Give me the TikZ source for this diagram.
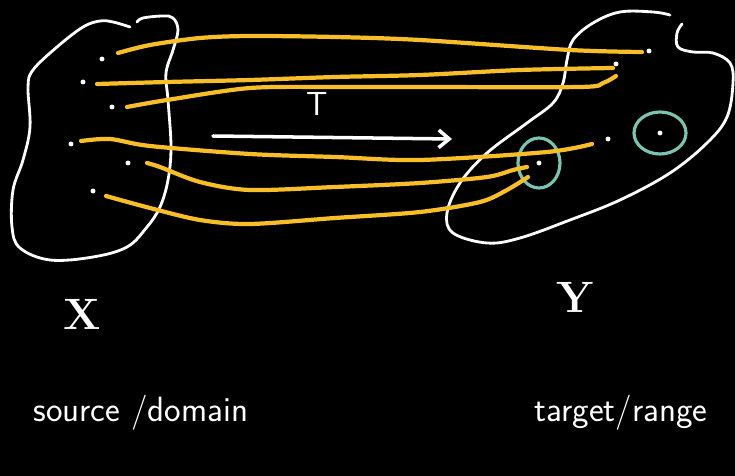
\documentclass[tikz,border=0pt]{standalone}
\usetikzlibrary{arrows.meta}
\definecolor{chalkorange}{RGB}{248,190,40}
\definecolor{chalkteal}{RGB}{125,195,178}

\begin{document}
\begin{tikzpicture}[
    x=0.02cm, y=-0.02cm,
    blob/.style={draw=white, line width=1.6pt, line cap=round},
    mapline/.style={draw=chalkorange, line width=2.4pt, line cap=round},
    hole/.style={draw=chalkteal, line width=1.8pt},
    dot/.style={circle, fill=white, inner sep=0pt, minimum size=2.8pt},
    lbl/.style={text=white, font=\sffamily\fontsize{20}{24}\selectfont},
    >={Straight Barb[length=6pt, width=10pt]}
  ]
  \fill[black] (0,0) rectangle (735,476);

  % Source set X
  \draw[blob] plot[smooth, tension=0.6] coordinates {
    (130,27) (113,22) (100,21) (83,27) (57,47) (33,70) (28,87) (30,127)
    (23,160) (13,190) (12,227) (20,248) (50,260) (93,257) (127,247)
    (147,227) (160,207) (168,180) (171,147) (168,100) (166,73) (173,50)
    (178,30) (173,18) (163,16) (143,18) (137,22)};
  \foreach \p [count=\i] in {(102,59),(83,82),(112,107),(71,144),(128,163),(93,191)} {
    \node[dot] (x\i) at \p {};
  }

  % Target set Y
  \draw[blob] plot[smooth, tension=0.6] coordinates {
    (670,15) (653,12) (620,12) (593,23) (573,40) (567,60) (563,83)
    (553,103) (527,123) (487,153) (460,183) (447,213) (453,233)
    (487,243) (520,238) (570,220) (620,200) (670,173) (707,143)
    (727,117) (733,83) (730,63) (713,53) (693,52) (678,47) (677,33)
    (682,24)};
  \foreach \p [count=\i] in {(649,51),(616,64),(608,139),(539,163),(660,133)} {
    \node[dot] (y\i) at \p {};
  }

  % preimage circles
  \draw[hole] (y4) ellipse [x radius=21, y radius=25];
  \draw[hole] (y5) ellipse [x radius=26, y radius=21];

  % the map T
  \coordinate (s1) at (118,53);  \coordinate (t1) at (642,52);
  \coordinate (s2) at (97,84);   \coordinate (t2) at (613,68);
  \coordinate (s3) at (127,107); \coordinate (t3) at (616,76);
  \coordinate (s4) at (81,141);  \coordinate (t4) at (592,144);
  \coordinate (s5) at (147,163); \coordinate (t5) at (527,167);
  \coordinate (s6) at (106,196); \coordinate (t6) at (528,177);

  \draw[mapline] plot[smooth] coordinates {(s1) (150,45) (200,38) (250,36) (335,37) (420,40) (570,50) (t1)};
  \draw[mapline] plot[smooth] coordinates {(s2) (167,82) (250,80) (335,77) (420,75) (520,70) (t2)};
  \draw[mapline] plot[smooth] coordinates {(s3) (167,100) (250,88) (335,87) (420,87) (580,87) (603,83) (t3)};
  \draw[mapline] plot[smooth] coordinates {(s4) (110,139) (150,146) (250,154) (335,157) (420,160) (547,152) (t4)};
  \draw[mapline] plot[smooth] coordinates {(s5) (160,167) (200,182) (250,190) (335,187) (420,183) (487,177) (513,170) (t5)};
  \draw[mapline] plot[smooth] coordinates {(s6) (150,208) (200,220) (250,224) (335,218) (420,212) (480,202) (507,190) (t6)};

  \coordinate (ta) at (213,136);
  \coordinate (tb) at (452,139);
  \draw[->, white, line width=2pt, line cap=round] (ta) -- (tb);
  \node[lbl, font=\sffamily\fontsize{19}{22}\selectfont] (tlab) at (317,104) {T};

  % labels
  \node[lbl, font=\rmfamily\bfseries\fontsize{25}{28}\selectfont] (xlab) at (82,314) {X};
  \node[lbl, font=\rmfamily\bfseries\fontsize{25}{28}\selectfont] (ylab) at (575,297) {Y};
  \node[lbl, anchor=west, inner sep=0pt] (src) at (33,413) {source /domain};
  \node[lbl, anchor=west, inner sep=0pt] (tgt) at (534,413) {target/range};
\end{tikzpicture}
\end{document}
